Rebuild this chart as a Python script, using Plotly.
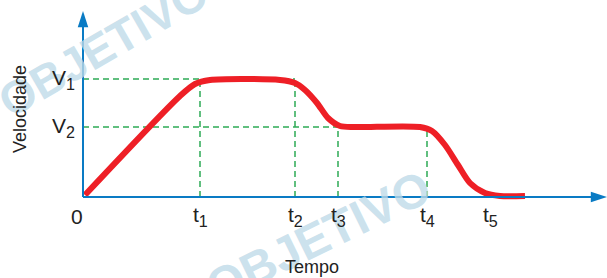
import plotly.graph_objects as go

# ---- data (x: time units, y: velocity units) ----
curve_t = [2, 97, 112, 127, 197, 212, 222, 234, 245, 257, 272, 337, 349, 362, 375, 387, 402, 417, 442]
curve_v = [2, 101, 113, 117, 117, 114, 107, 94, 79, 71, 70, 70, 66, 52, 32, 14, 4, 1, 1]

t_ticks = [0, 117, 212, 255, 344, 407]
t_labels = ["0", "t", "t", "t", "t", "t"]
t_subs = ["", "1", "2", "3", "4", "5"]
v_ticks = [118, 70]
v_labels = ["V", "V"]
v_subs = ["1", "2"]
V1, V2 = v_ticks
t1, t2, t3, t4 = t_ticks[1:5]

BLUE = "#0A7BC4"
RED = "#EE1F26"
GREEN = "#2EAA55"
FONT = "Liberation Sans, Arial, sans-serif"


def label(base, sub, size):
    if not sub:
        return base
    return f"{base}<span style='font-size:{size}px'><sub>{sub}</sub></span>"


fig = go.Figure()

# watermark
wm = "rgba(190,218,232,0.8)"
fig.add_annotation(x=20, y=150, xref="x", yref="y", text="<b>OBJETIVO</b>", showarrow=False,
                   textangle=-30, font=dict(family=FONT, size=46, color=wm))
fig.add_annotation(x=235, y=-40, xref="x", yref="y", text="<b>OBJETIVO</b>", showarrow=False,
                   textangle=-26, font=dict(family=FONT, size=48, color=wm))

# dashed guide lines
dash = dict(color=GREEN, width=1.5, dash="6px,4px")
guides = [
    ([0, t2], [V1, V1]),
    ([0, t3], [V2, V2]),
    ([t1, t1], [0, V1]),
    ([t2, t2], [0, V1]),
    ([t3, t3], [0, V2]),
    ([t4, t4], [0, V2]),
]
for gx, gy in guides:
    fig.add_trace(go.Scatter(x=gx, y=gy, mode="lines", line=dash, hoverinfo="skip", showlegend=False))

# velocity curve
fig.add_trace(go.Scatter(x=curve_t, y=curve_v, mode="lines",
                         line=dict(color=RED, width=6, shape="spline", smoothing=0.8),
                         showlegend=False))

# axes with arrows
fig.add_trace(go.Scatter(x=[0, 518], y=[0, 0], mode="lines", line=dict(color=BLUE, width=2),
                         hoverinfo="skip", showlegend=False))
fig.add_trace(go.Scatter(x=[0, 0], y=[0, 182], mode="lines", line=dict(color=BLUE, width=2),
                         hoverinfo="skip", showlegend=False))
fig.add_trace(go.Scatter(x=[524], y=[0], mode="markers", cliponaxis=False,
                         marker=dict(symbol="arrow", angle=90, size=17, color=BLUE),
                         hoverinfo="skip", showlegend=False))
fig.add_trace(go.Scatter(x=[0], y=[186], mode="markers", cliponaxis=False,
                         marker=dict(symbol="arrow", angle=0, size=17, color=BLUE),
                         hoverinfo="skip", showlegend=False))

# tick labels
for tx, tl, ts in zip(t_ticks, t_labels, t_subs):
    fig.add_annotation(x=tx - (6 if tl == "0" else 0), y=-19, xref="x", yref="y",
                       text=label(tl, ts, 23), showarrow=False,
                       font=dict(family=FONT, size=21, color="#222"))
for vy, vl, vs in zip(v_ticks, v_labels, v_subs):
    fig.add_annotation(x=-20, y=vy, xref="x", yref="y", text=label(vl, vs, 23), showarrow=False,
                       font=dict(family=FONT, size=21, color="#222"))

# axis titles
fig.add_annotation(x=-63, y=88, xref="x", yref="y", text="Velocidade", showarrow=False, textangle=-90,
                   font=dict(family=FONT, size=18, color="#222"))
fig.add_annotation(x=229, y=-70, xref="x", yref="y", text="Tempo", showarrow=False,
                   font=dict(family=FONT, size=18, color="#222"))

fig.update_layout(
    width=607, height=278, autosize=False,
    margin=dict(l=0, r=0, t=0, b=0),
    paper_bgcolor="white", plot_bgcolor="white",
    xaxis=dict(range=[-83, 524], visible=False, fixedrange=True),
    yaxis=dict(range=[-81, 197], visible=False, fixedrange=True),
    showlegend=False,
)

fig.write_html("out.html", post_script="document.body.style.margin='0';",
               config={"displayModeBar": False})
